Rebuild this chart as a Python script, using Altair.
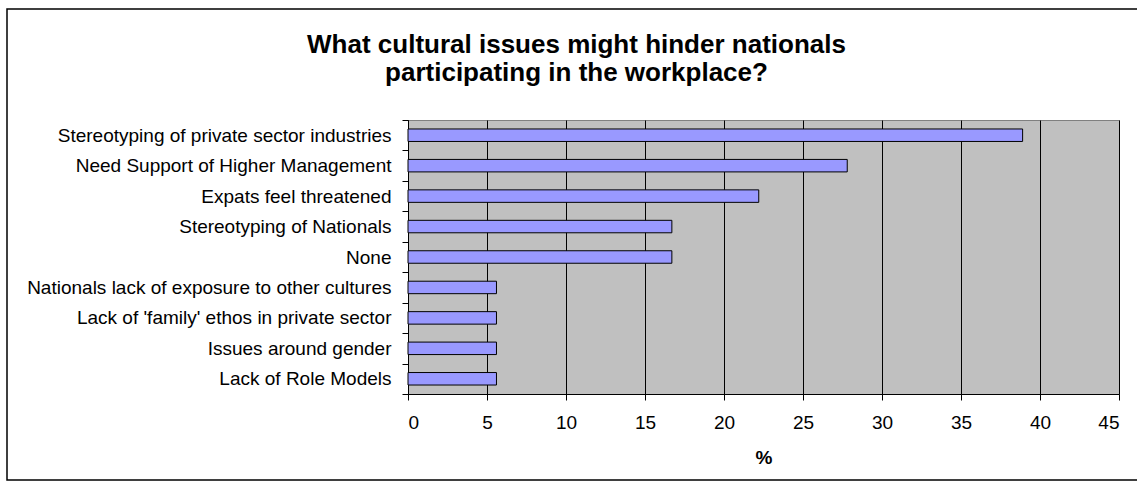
import altair as alt
import pandas as pd

categories = [
    "Stereotyping of private sector industries",
    "Need Support of Higher Management",
    "Expats feel threatened",
    "Stereotyping of Nationals",
    "None",
    "Nationals lack of exposure to other cultures",
    "Lack of 'family' ethos in private sector",
    "Issues around gender",
    "Lack of Role Models",
]
values = [38.9, 27.8, 22.2, 16.7, 16.7, 5.6, 5.6, 5.6, 5.6]
x_ticks = [0, 5, 10, 15, 20, 25, 30, 35, 40, 45]
title_lines = ["What cultural issues might hinder nationals", "participating in the workplace?"]
x_title = "%"

FONT = "Liberation Sans"
W, H = 711, 274

df = pd.DataFrame({"issue": categories, "pct": values})

bars = alt.Chart(df).mark_bar(
    height=alt.RelativeBandSize(0.41), fill="#9999FF", stroke="#000000", strokeWidth=1
).encode(
    y=alt.Y(
        "issue:N",
        sort=categories,
        scale=alt.Scale(paddingInner=0, paddingOuter=0),
        axis=alt.Axis(
            title=None, tickBand="extent", ticks=True, tickSize=6, tickColor="black",
            domainColor="black", labelFont=FONT, labelFontSize=19, labelColor="black",
            labelPadding=11, grid=False, labelLimit=500,
        ),
    ),
    x=alt.X(
        "pct:Q",
        scale=alt.Scale(domain=[0, 45], nice=False),
        axis=alt.Axis(
            values=x_ticks, title=x_title, grid=True, gridColor="black", gridOpacity=1,
            gridWidth=1, tickSize=6, tickColor="black", domainColor="black",
            labelFont=FONT, labelFontSize=19, labelColor="black", labelPadding=13,
            titleFont=FONT, titleFontSize=19, titleFontWeight="bold", titleColor="black",
            titlePadding=16,
        ),
    ),
    tooltip=["issue", "pct"],
)

frame = alt.Chart(pd.DataFrame({"k": [0]})).mark_rect(
    filled=False, stroke="#000000", strokeWidth=1.5
).encode(
    x=alt.value(-401), x2=alt.value(740), y=alt.value(-111), y2=alt.value(360)
)

chart = alt.layer(frame, bars).properties(
    width=W,
    height=H,
    autosize=alt.AutoSizeParams(type="none"),
    padding={"left": 408, "top": 120, "right": 18, "bottom": 91},
    background="white",
    title=alt.Title(
        title_lines, font=FONT, fontSize=26, fontWeight="bold", color="black",
        anchor="middle", frame="group", dx=-187, offset=-78, baseline="top", lineHeight=28,
    ),
).configure_view(fill="#C0C0C0", stroke="#808080", strokeWidth=1)

chart.save("out.html", embed_options={"renderer": "svg", "actions": False})
